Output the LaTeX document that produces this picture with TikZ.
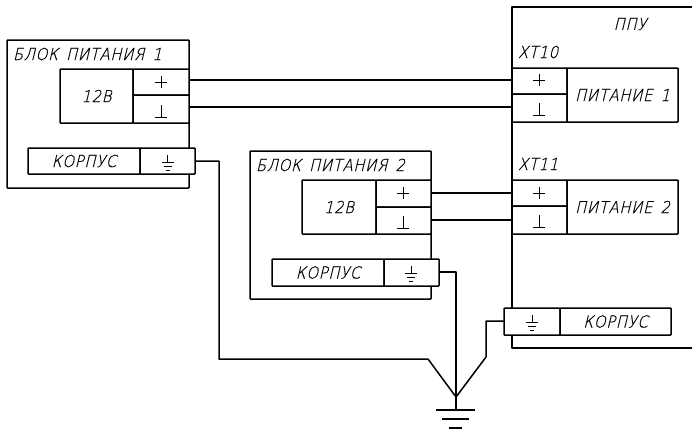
\documentclass[tikz,border=0pt]{standalone}
\usepackage{fontspec}
\newfontfamily\gost[FakeSlant=0.24,LetterSpace=4,FakeStretch=0.9,FakeBold=0.4,WordSpace=1.5]{DejaVu Sans ExtraLight}
\tikzset{
  bx/.style={draw=black,fill=white,line width=1.5pt,rounded corners=0.6pt,inner sep=0pt,outer sep=0pt,font=\gost\fontsize{16.5}{17}\selectfont},
  wire/.style={draw=black,line width=1.5pt,line join=round},
  sym/.style={draw=black,line width=0.85pt},
  lab/.style={inner sep=0pt,outer sep=0pt,font=\gost\fontsize{16.5}{17}\selectfont,text=black}
}
\newcommand{\cellbox}[6]{\node[bx,minimum width={(#4-#2)*1pt},minimum height={(#5-#3)*1pt}] (#1) at ({(#2+#4)/2},{(#3+#5)/2}) {#6};}
\newcommand{\plusmark}[2]{\draw[sym] (#1-6,#2)--(#1+6,#2) (#1,#2-6)--(#1,#2+6);}
\newcommand{\tackmark}[2]{\draw[sym] (#1-6,#2+6)--(#1+6,#2+6) (#1,#2-6)--(#1,#2+6);}
\newcommand{\gndmark}[2]{\draw[sym] (#1,#2-7)--(#1,#2) (#1-6,#2)--(#1+6,#2) (#1-4,#2+4)--(#1+4,#2+4) (#1-2,#2+8)--(#1+2,#2+8);}
\begin{document}
\begin{tikzpicture}[x=1pt,y=-1pt]
\useasboundingbox[fill=white] (0,0) rectangle (692,432);
% PPU enclosure, open to the right
\coordinate (ppuTR) at (692,7);
\coordinate (ppuBR) at (692,348);
\coordinate (ppuTL) at (512,7);
\coordinate (ppuBL) at (512,348);
\draw[wire] (ppuTR)--(ppuTL)--(ppuBL)--(ppuBR);
% outer blocks
\cellbox{blockA}{7}{40}{189}{188}{}
\cellbox{blockB}{250}{151}{431}{299}{}
% block 1
\cellbox{vA}{60}{69}{133}{123}{12В}
\cellbox{aPlus}{133}{69}{189}{95}{}
\cellbox{aMinus}{133}{95}{189}{123}{}
\cellbox{aCase}{28}{148}{140}{174}{КОРПУС}
\cellbox{aGnd}{140}{148}{195}{174}{}
% block 2
\cellbox{vB}{302}{180}{376}{234}{12В}
\cellbox{bPlus}{376}{180}{431}{207}{}
\cellbox{bMinus}{376}{207}{431}{234}{}
\cellbox{bCase}{272}{259}{384}{286}{КОРПУС}
\cellbox{bGnd}{384}{259}{439}{286}{}
% PPU cells
\cellbox{cPlus}{512}{68}{567}{94}{}
\cellbox{cMinus}{512}{94}{567}{122}{}
\cellbox{cPow}{567}{68}{678}{122}{ПИТАНИЕ 1}
\cellbox{dPlus}{512}{180}{567}{206}{}
\cellbox{dMinus}{512}{206}{567}{234}{}
\cellbox{dPow}{567}{180}{678}{234}{ПИТАНИЕ 2}
\cellbox{pGnd}{504}{308}{560}{335}{}
\cellbox{pCase}{560}{308}{671}{335}{КОРПУС}
% labels
\node[lab,anchor=west] (tA) at (13,54) {БЛОК ПИТАНИЯ 1};
\node[lab,anchor=west] (tB) at (256,165) {БЛОК ПИТАНИЯ 2};
\node[lab,anchor=center] (tP) at (630,24) {ППУ};
\node[lab,anchor=west] (tX) at (518,52) {ХТ10};
\node[lab,anchor=west] (tY) at (518,164) {ХТ11};
% symbols
\plusmark{161}{82}\tackmark{161}{111}
\plusmark{403}{193}\tackmark{403}{222}
\plusmark{539}{80}\tackmark{539}{109}
\plusmark{539}{193}\tackmark{539}{221}
\gndmark{167.5}{162}\gndmark{411}{273}\gndmark{532}{322}
% wire ends
\coordinate (a1) at (aPlus.east|-0,80);
\coordinate (a2) at (aMinus.east|-0,107);
\coordinate (c1) at (cPlus.west|-0,80);
\coordinate (c2) at (cMinus.west|-0,107);
\coordinate (b1) at (bPlus.east|-0,193);
\coordinate (b2) at (bMinus.east|-0,220);
\coordinate (d1) at (dPlus.west|-0,193);
\coordinate (d2) at (dMinus.west|-0,220);
\draw[wire] (a1)--(c1) (a2)--(c2) (b1)--(d1) (b2)--(d2);
% earth
\coordinate (star) at (456,397);
\coordinate (stem) at (456,410);
\coordinate (k1) at (219,161);
\coordinate (k2) at (219,359);
\coordinate (k3) at (428,359);
\coordinate (m1) at (456,272);
\coordinate (n1) at (486,321);
\coordinate (n2) at (486,357);
\draw[wire] (aGnd.east|-k1)--(k1)--(k2)--(k3)--(star);
\draw[wire] (bGnd.east|-m1)--(m1)--(star);
\draw[wire] (pGnd.west|-n1)--(n1)--(n2)--(star);
\draw[wire] (star)--(stem);
\draw[wire] (436,410)--(475,410) (442,419)--(469,419) (449,428)--(462,428);
\end{tikzpicture}
\end{document}
